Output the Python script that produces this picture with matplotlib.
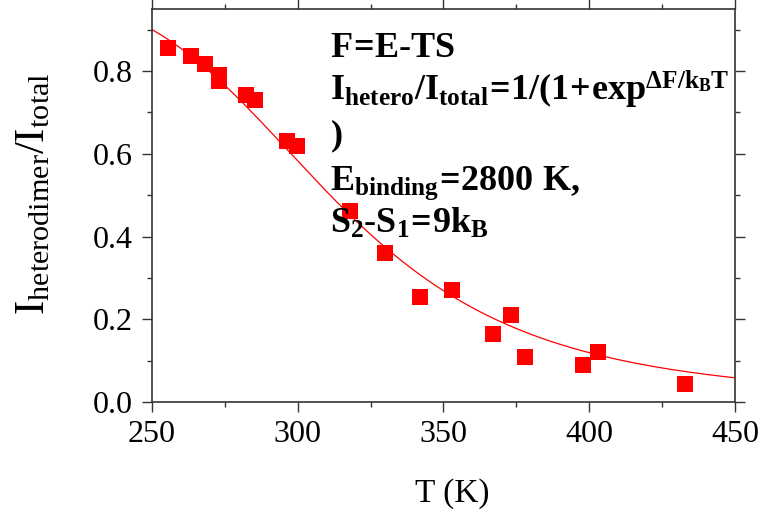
import numpy as np
import matplotlib.pyplot as plt
from matplotlib.ticker import MultipleLocator

plt.rcParams['font.family'] = ['Liberation Serif', 'DejaVu Serif']
plt.rcParams['mathtext.fontset'] = 'custom'
plt.rcParams['mathtext.rm'] = 'Liberation Serif'
plt.rcParams['mathtext.it'] = 'Liberation Serif'
plt.rcParams['mathtext.bf'] = 'Liberation Serif:bold'

# measured hetero fraction vs temperature
T_data = [255.5, 263.4, 268.2, 273.0, 273.0, 282.2, 285.3, 296.3, 299.7, 317.9,
          329.9, 341.9, 352.9, 367.0, 373.2, 378.0, 397.9, 403.0, 432.8]
frac_data = [0.856, 0.836, 0.817, 0.790, 0.775, 0.742, 0.730, 0.631, 0.619, 0.462,
             0.360, 0.254, 0.271, 0.164, 0.210, 0.109, 0.089, 0.121, 0.044]

E_binding = 2800  # K
dS = 9            # S2-S1 in units of kB

T_fit = np.linspace(250, 450, 400)
frac_fit = 1 / (1 + np.exp(dS - E_binding / T_fit))

fig = plt.figure(figsize=(7.63, 5.11), dpi=100)
ax = fig.add_axes([0.1992, 0.2133, 0.7641, 0.7691])

ax.plot(T_fit, frac_fit, color='red', lw=0.9)
ax.plot(T_data, frac_data, 's', color='red', ms=12, mec='red', mew=0)

ax.set_xlim(250, 450)
ax.set_ylim(0, 0.95)
ax.xaxis.set_major_locator(MultipleLocator(50))
ax.xaxis.set_minor_locator(MultipleLocator(25))
ax.yaxis.set_major_locator(MultipleLocator(0.2))
ax.yaxis.set_minor_locator(MultipleLocator(0.1))
ax.yaxis.set_major_formatter(plt.FuncFormatter(lambda v, p: '%.1f' % v))

for s in ax.spines.values():
    s.set_linewidth(1.2)
    s.set_color('#333333')
ax.tick_params(which='both', direction='out', top=True, right=True,
               colors='#333333', labelcolor='black', labelsize=23, width=1.0)
ax.tick_params(which='major', length=7)
ax.tick_params(which='minor', length=3.5)
ax.tick_params(axis='x', pad=6)
ax.tick_params(axis='y', pad=7)

fig.text(0.593, 0.035, 'T (K)', ha='center', va='center', fontsize=24)
fig.text(0.045, 0.62, r'I$_{\mathrm{heterodimer}}$/I$_{\mathrm{total}}$',
         rotation=90, ha='center', va='center', fontsize=31)

lines = [
    (0.878, r'$\mathbf{F\!=\!E\text{-}TS}$'),
    (0.768, r'$\mathbf{I_{hetero}/I_{total}\!=\!1/(1\!+\!exp^{\Delta F/k_BT}}$'),
    (0.654, r'$\mathbf{)}$'),
    (0.539, r'$\mathbf{E_{binding}\!=\!2800\ K,}$'),
    (0.430, r'$\mathbf{S_2\text{-}S_1\!=\!9k_B}$'),
]
for yy, txt in lines:
    ax.text(0.305, yy, txt, transform=ax.transAxes, fontsize=26,
            ha='left', va='baseline')

fig.savefig('out.png', dpi=100)
